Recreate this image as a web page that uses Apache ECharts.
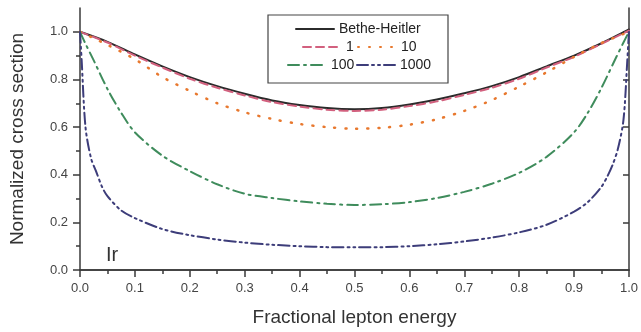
<!DOCTYPE html>
<html>
<head>
<meta charset="utf-8">
<script src="https://cdn.jsdelivr.net/npm/echarts@6/dist/echarts.min.js"></script>
<style>
  html, body { margin: 0; padding: 0; background: #fff; }
  #chart { width: 641px; height: 332px; }
</style>
</head>
<body>
<div id="chart"></div>
<script>
// values
var xUniform = [0, 0.05, 0.1, 0.15, 0.2, 0.25, 0.3, 0.35, 0.4, 0.45, 0.5,
                0.55, 0.6, 0.65, 0.7, 0.75, 0.8, 0.85, 0.9, 0.95, 1.0];
var bheY = [1.0, 0.958, 0.905, 0.855, 0.81, 0.772, 0.74, 0.712, 0.693, 0.68, 0.675,
            0.68, 0.695, 0.716, 0.742, 0.772, 0.81, 0.855, 0.9, 0.952, 1.01];
var y1 = [1.0, 0.955, 0.9, 0.85, 0.803, 0.765, 0.733, 0.705, 0.686, 0.673, 0.668,
          0.673, 0.688, 0.708, 0.735, 0.765, 0.803, 0.85, 0.895, 0.95, 1.005];
var y10 = [1.0, 0.945, 0.885, 0.81, 0.752, 0.70, 0.662, 0.634, 0.613, 0.60, 0.593,
           0.597, 0.61, 0.633, 0.668, 0.713, 0.77, 0.83, 0.895, 0.953, 1.0];

var x100 = [0, 0.01, 0.025, 0.05, 0.075, 0.1, 0.15, 0.2, 0.25, 0.3, 0.35, 0.4, 0.45, 0.5,
            0.55, 0.6, 0.65, 0.7, 0.75, 0.8, 0.85, 0.9, 0.925, 0.95, 0.975, 0.99, 1.0];
var y100 = [1.0, 0.95, 0.88, 0.76, 0.66, 0.578, 0.48, 0.415, 0.36, 0.32, 0.302, 0.288, 0.278, 0.273,
            0.276, 0.285, 0.302, 0.328, 0.362, 0.408, 0.475, 0.578, 0.66, 0.765, 0.885, 0.955, 1.0];

var x1000 = [0, 0.003, 0.01, 0.02, 0.03, 0.04, 0.05, 0.075, 0.1, 0.15, 0.2, 0.25, 0.3, 0.35, 0.4, 0.45, 0.5,
             0.55, 0.6, 0.65, 0.7, 0.75, 0.8, 0.85, 0.9, 0.925, 0.95, 0.96, 0.97, 0.98, 0.99, 0.997, 1.0];
var y1000 = [1.0, 0.88, 0.6, 0.47, 0.41, 0.35, 0.31, 0.25, 0.218, 0.172, 0.146, 0.128, 0.115, 0.106, 0.1, 0.096, 0.095,
             0.096, 0.1, 0.108, 0.12, 0.136, 0.158, 0.19, 0.245, 0.285, 0.35, 0.39, 0.44, 0.51, 0.63, 0.88, 1.0];

var yMajor = [0, 0.2, 0.4, 0.6, 0.8, 1.0];
var yMinor = [0.1, 0.3, 0.5, 0.7, 0.9];

function pairs(xs, ys) {
    return xs.map(function (x, i) { return [x, ys[i]]; });
}

var chart = echarts.init(document.getElementById('chart'));
var axisColor = '#3a3a3a';
var font = 'Liberation Sans, Arial, sans-serif';

function line(name, data, color, type, width) {
    return {
        name: name,
        type: 'line',
        data: data,
        showSymbol: false,
        symbol: 'none',
        smooth: 0.3,
        xAxisIndex: 0,
        yAxisIndex: 0,
        lineStyle: { color: color, type: type, width: width, cap: 'round' },
        itemStyle: { color: color }
    };
}

// each legend entry placed on its own so the rows look like the original box
function legendItem(name, left, top) {
    return {
        data: [name],
        left: left,
        top: top,
        padding: 0,
        itemWidth: 38,
        itemHeight: 14,
        itemGap: 0,
        itemStyle: { opacity: 0, borderWidth: 0 },
        textStyle: { fontSize: 14, color: '#222', fontFamily: font }
    };
}

var option = {
    animation: false,
    backgroundColor: '#fff',
    grid: { left: 78, right: 9, top: 8, bottom: 61 },
    legend: [
        legendItem('Bethe-Heitler', 295, 22),
        legendItem('1', 302, 40),
        legendItem('10', 357, 40),
        legendItem('100', 287, 58),
        legendItem('1000', 356, 58)
    ],
    graphic: [
        {
            type: 'rect',
            shape: { x: 268, y: 15, width: 180, height: 68 },
            style: { fill: '#fff', stroke: '#444', lineWidth: 1.2 },
            z: 0
        },
        {
            type: 'text',
            left: 106,
            top: 245,
            style: { text: 'Ir', fontSize: 20, fill: '#333', fontFamily: font }
        }
    ],
    xAxis: [
        {
            type: 'value',
            position: 'bottom',
            min: 0, max: 1, interval: 0.1,
            name: 'Fractional lepton energy',
            nameLocation: 'middle',
            nameGap: 38,
            nameTextStyle: { fontSize: 19, color: '#333', fontFamily: font },
            axisLine: { show: true, lineStyle: { color: axisColor, width: 1.5 } },
            axisTick: { show: true, length: 7, lineStyle: { color: axisColor, width: 1.5 } },
            minorTick: { show: true, splitNumber: 2, length: 4, lineStyle: { color: axisColor, width: 1.5 } },
            axisLabel: { fontSize: 13, color: '#444', margin: 12, fontFamily: font,
                formatter: function (v) { return v.toFixed(1); } },
            splitLine: { show: false }
        },
        {
            type: 'value',
            position: 'top',
            min: 0, max: 1, interval: 0.1,
            axisLine: { show: true, lineStyle: { color: axisColor, width: 1.5 } },
            axisTick: { show: true, inside: true, length: 6, lineStyle: { color: axisColor, width: 1.5 } },
            axisLabel: { show: false },
            splitLine: { show: false }
        }
    ],
    yAxis: [
        {
            type: 'value',
            position: 'left',
            min: 0, max: 1.1,
            name: 'Normalized cross section',
            nameLocation: 'middle',
            nameGap: 53,
            nameTextStyle: { fontSize: 19, color: '#333', fontFamily: font },
            axisLine: { show: true, lineStyle: { color: axisColor, width: 1.5 } },
            axisTick: { show: true, length: 7, customValues: yMajor, lineStyle: { color: axisColor, width: 1.5 } },
            axisLabel: { fontSize: 13, color: '#444', margin: 12, fontFamily: font, customValues: yMajor,
                formatter: function (v) { return v.toFixed(1); } },
            splitLine: { show: false }
        },
        {
            type: 'value',
            position: 'left',
            min: 0, max: 1.1,
            axisLine: { show: false },
            axisTick: { show: true, length: 4, customValues: yMinor, lineStyle: { color: axisColor, width: 1.5 } },
            axisLabel: { show: false },
            splitLine: { show: false }
        },
        {
            type: 'value',
            position: 'right',
            min: 0, max: 1.1,
            axisLine: { show: true, lineStyle: { color: axisColor, width: 1.5 } },
            axisTick: { show: true, inside: true, length: 6, customValues: yMajor.slice(1), lineStyle: { color: axisColor, width: 1.5 } },
            axisLabel: { show: false },
            splitLine: { show: false }
        }
    ],
    series: [
        line('Bethe-Heitler', pairs(xUniform, bheY), '#2b2b2b', 'solid', 2),
        line('1', pairs(xUniform, y1), '#d2607e', [8, 5], 2),
        line('10', pairs(xUniform, y10), '#e8782e', [1, 10], 2.5),
        line('100', pairs(x100, y100), '#3f8c5c', [11, 5, 2, 5], 2),
        line('1000', pairs(x1000, y1000), '#3d3d7a', [11, 4, 2, 4, 2, 4], 2)
    ]
};

chart.setOption(option);
</script>
</body>
</html>
